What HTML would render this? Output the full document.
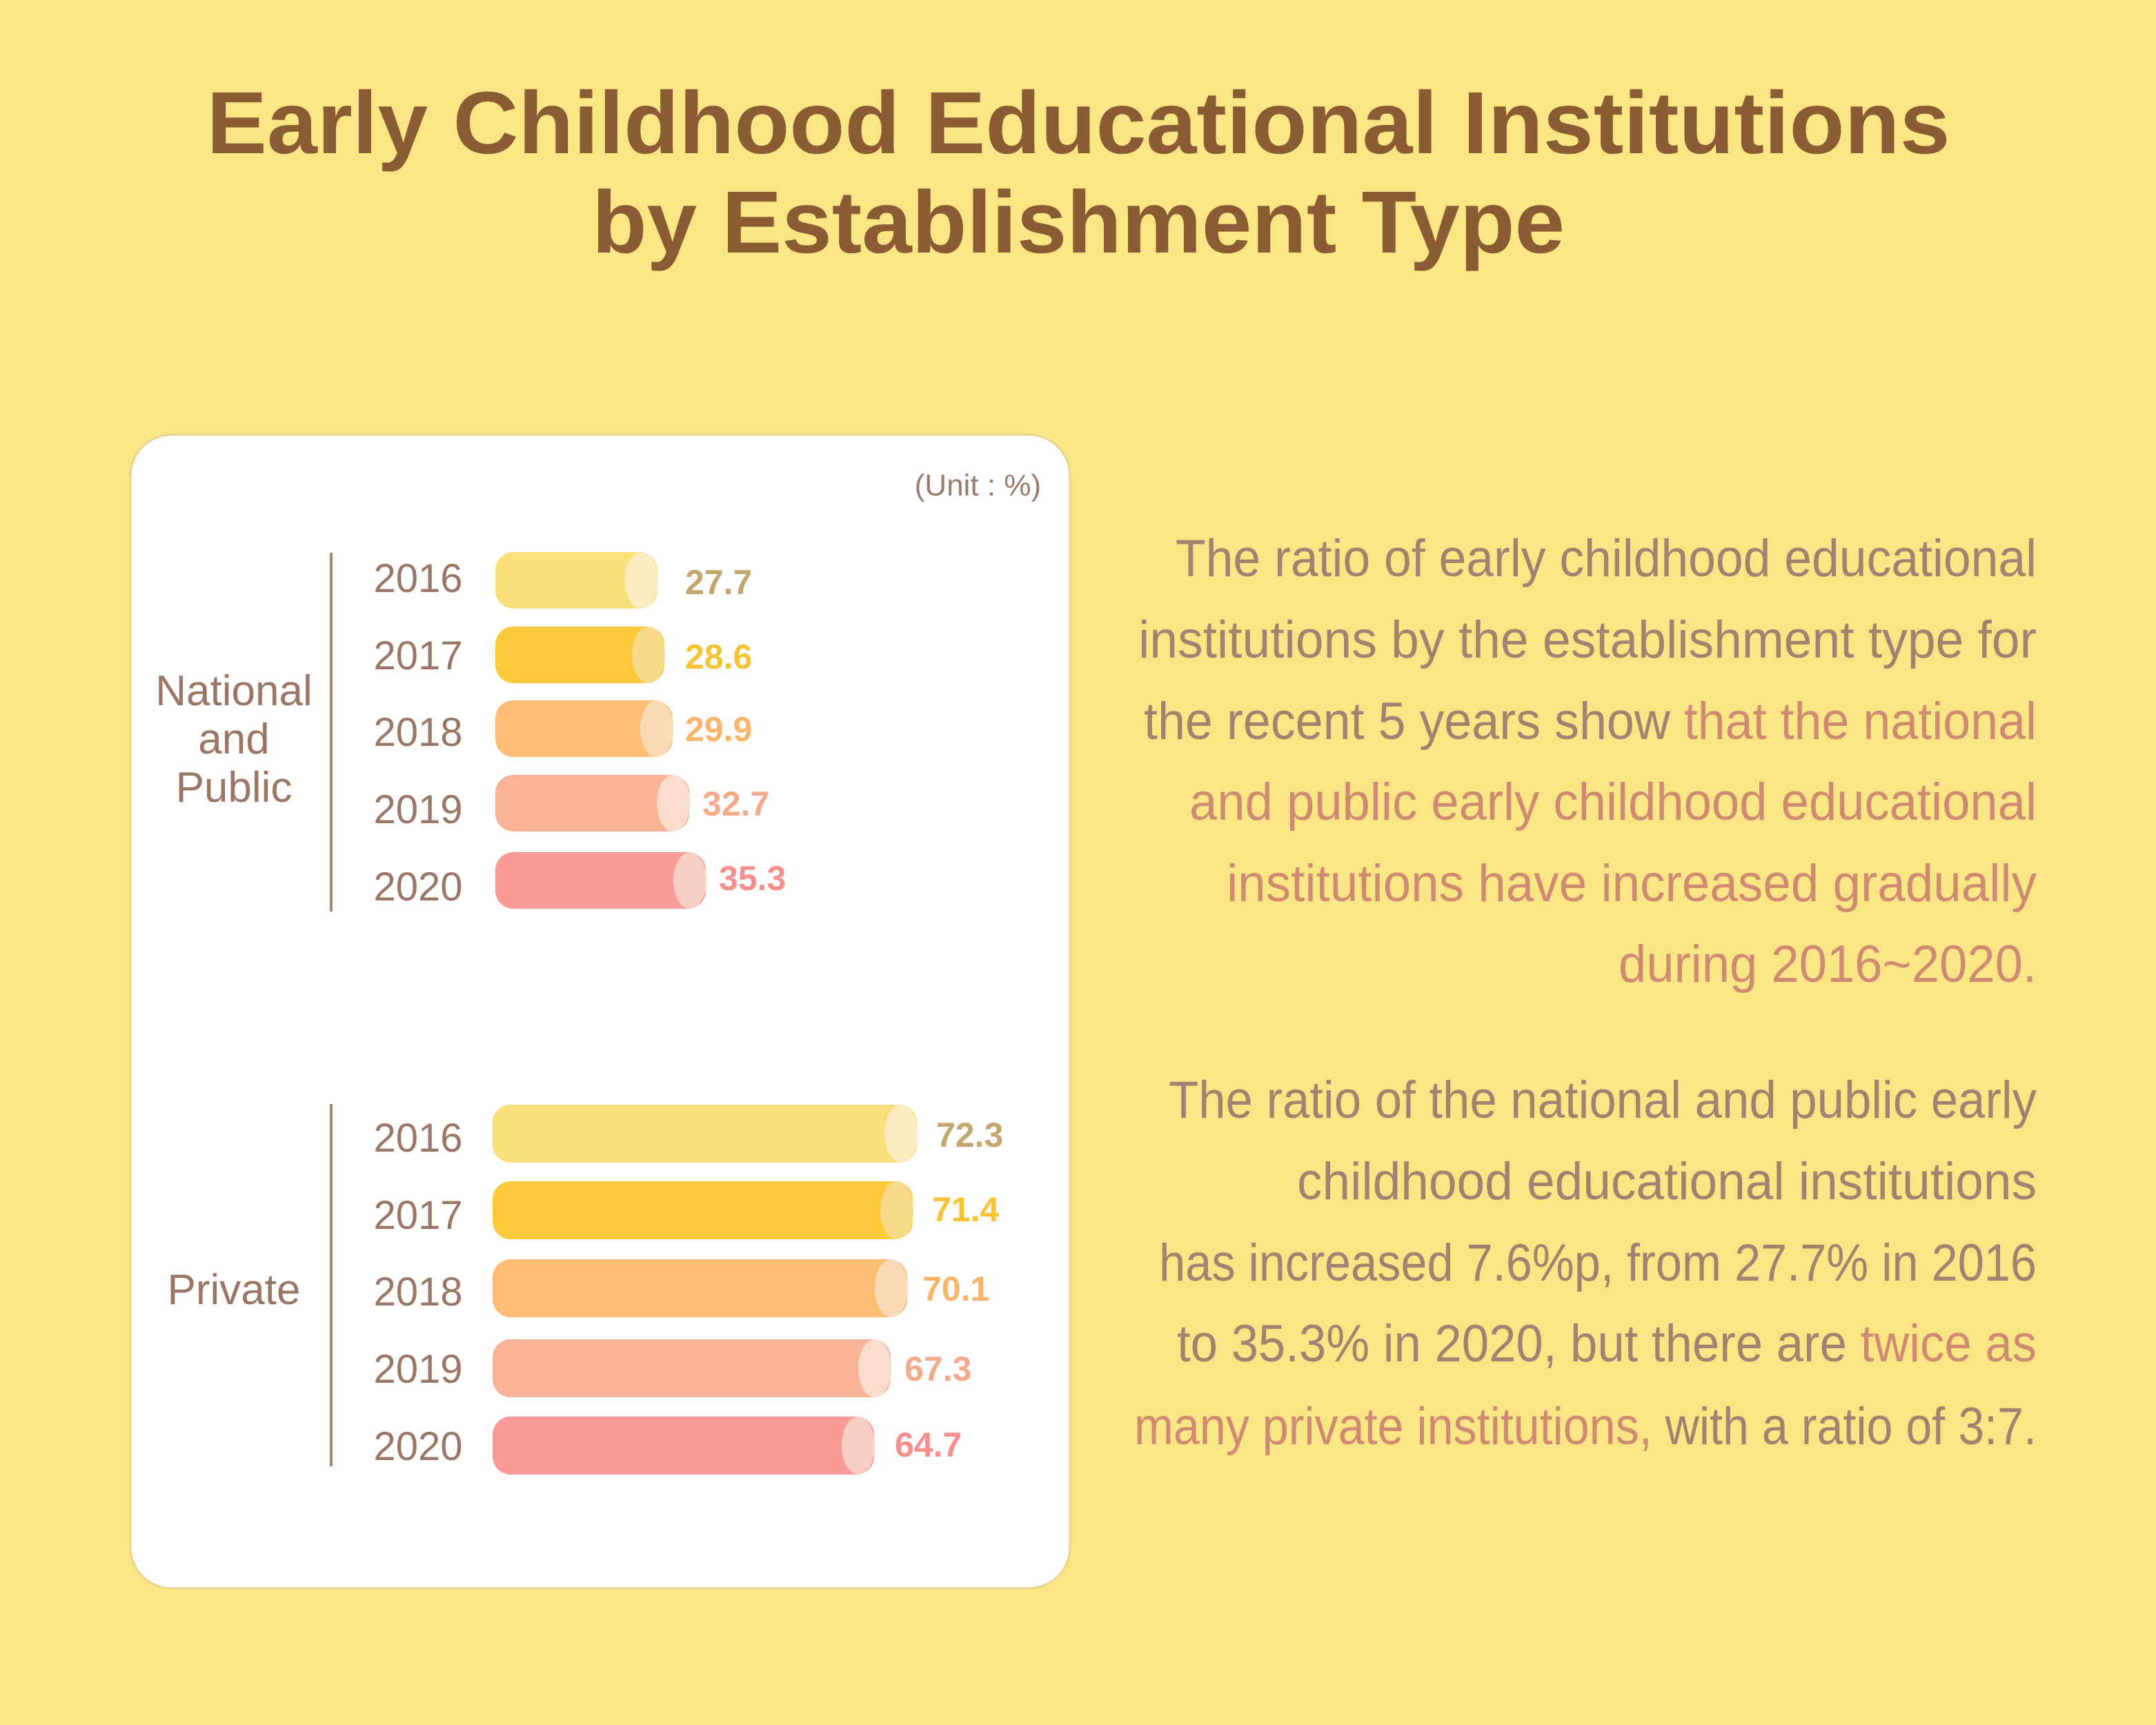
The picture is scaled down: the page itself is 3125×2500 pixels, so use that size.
<!DOCTYPE html>
<html><head><meta charset="utf-8"><style>
html,body{margin:0;padding:0;width:3125px;height:2500px;overflow:hidden;background:#fae685;}
svg{display:block}
</style></head><body>
<svg width="3125" height="2500" viewBox="0 0 3125 2500" xmlns="http://www.w3.org/2000/svg">
<rect width="3125" height="2500" fill="#fae685"/>
<g font-family="Liberation Sans, sans-serif" font-weight="bold" fill="#8b5c33" text-anchor="middle">
<text x="1563" y="222" font-size="128" textLength="2527" lengthAdjust="spacingAndGlyphs">Early Childhood Educational Institutions</text>
<text x="1563" y="366" font-size="128" textLength="1410" lengthAdjust="spacingAndGlyphs">by Establishment Type</text>
</g>
<rect x="189" y="630" width="1362" height="1672" rx="60" fill="#fff" stroke="#e8d48a" stroke-width="3"/>
<text x="1509" y="718" font-family="Liberation Sans, sans-serif" font-size="44" fill="#9a7a6a" text-anchor="end">(Unit : %)</text>
<line x1="480" y1="801" x2="480" y2="1321" stroke="#a58470" stroke-width="4"/>
<line x1="480" y1="1600" x2="480" y2="2125" stroke="#a58470" stroke-width="4"/>
<g font-family="Liberation Sans, sans-serif" font-size="62" fill="#9a7666" text-anchor="middle">
<text x="339" y="1022">National</text><text x="339" y="1092">and</text><text x="339" y="1162">Public</text>
<text x="339" y="1890">Private</text>
</g>
<g font-family="Liberation Sans, sans-serif" font-size="58" fill="#9a7666" text-anchor="middle">
<text x="606" y="858">2016</text><text x="606" y="970">2017</text><text x="606" y="1081">2018</text><text x="606" y="1193">2019</text><text x="606" y="1305">2020</text>
<text x="606" y="1669">2016</text><text x="606" y="1781">2017</text><text x="606" y="1892">2018</text><text x="606" y="2004">2019</text><text x="606" y="2116">2020</text>
</g>
<g>
<rect x="718" y="800" width="235" height="82" rx="26" fill="#fae07a"/><ellipse cx="930" cy="841" rx="24" ry="41" fill="#fbebc0"/>
<rect x="718" y="908" width="245" height="82" rx="26" fill="#fcc93a"/><ellipse cx="940" cy="949" rx="24" ry="41" fill="#fadb8c"/>
<rect x="718" y="1015" width="257" height="82" rx="26" fill="#febd73"/><ellipse cx="952" cy="1056" rx="24" ry="41" fill="#fadbb8"/>
<rect x="718" y="1123" width="281" height="82" rx="26" fill="#fbb397"/><ellipse cx="976" cy="1164" rx="24" ry="41" fill="#f8dccc"/>
<rect x="718" y="1235" width="305" height="82" rx="26" fill="#fb9b98"/><ellipse cx="1000" cy="1276" rx="24" ry="41" fill="#f9cfc4"/>
</g>
<g>
<rect x="714" y="1601" width="615" height="84" rx="26" fill="#fae07a"/><ellipse cx="1306" cy="1643" rx="24" ry="42" fill="#fbebc0"/>
<rect x="714" y="1712" width="609" height="84" rx="26" fill="#fcc93a"/><ellipse cx="1300" cy="1754" rx="24" ry="42" fill="#fadb8c"/>
<rect x="714" y="1825" width="601" height="84" rx="26" fill="#febd73"/><ellipse cx="1292" cy="1867" rx="24" ry="42" fill="#fadbb8"/>
<rect x="714" y="1941" width="577" height="84" rx="26" fill="#fbb397"/><ellipse cx="1268" cy="1983" rx="24" ry="42" fill="#f8dccc"/>
<rect x="714" y="2053" width="553" height="84" rx="26" fill="#fb9b98"/><ellipse cx="1244" cy="2095" rx="24" ry="42" fill="#f9cfc4"/>
</g>
<g font-family="Liberation Sans, sans-serif" font-size="50" font-weight="bold">
<text x="993" y="861" fill="#c1a76f">27.7</text>
<text x="993" y="969" fill="#f6c335">28.6</text>
<text x="993" y="1074" fill="#f9b66a">29.9</text>
<text x="1018" y="1182" fill="#f7a98c">32.7</text>
<text x="1042" y="1290" fill="#f58f8c">35.3</text>
<text x="1357" y="1662" fill="#c1a76f">72.3</text>
<text x="1351" y="1770" fill="#f6c335">71.4</text>
<text x="1337" y="1885" fill="#f9b66a">70.1</text>
<text x="1311" y="2001" fill="#f7a98c">67.3</text>
<text x="1297" y="2111" fill="#f58f8c">64.7</text>
</g>
<g font-family="Liberation Sans, sans-serif" font-size="76" fill="#a58170" text-anchor="end">
<text x="2952" y="835" textLength="1248" lengthAdjust="spacingAndGlyphs">The ratio of early childhood educational</text>
<text x="2952" y="953" textLength="1302" lengthAdjust="spacingAndGlyphs">institutions by the establishment type for</text>
<text x="2952" y="1071" textLength="1294" lengthAdjust="spacingAndGlyphs">the recent 5 years show <tspan fill="#cf8a72">that the national</tspan></text>
<text x="2952" y="1188" textLength="1228" lengthAdjust="spacingAndGlyphs" fill="#cf8a72">and public early childhood educational</text>
<text x="2952" y="1306" textLength="1174" lengthAdjust="spacingAndGlyphs" fill="#cf8a72">institutions have increased gradually</text>
<text x="2952" y="1423" textLength="606" lengthAdjust="spacingAndGlyphs" fill="#cf8a72">during 2016~2020.</text>
<text x="2952" y="1620" textLength="1258" lengthAdjust="spacingAndGlyphs">The ratio of the national and public early</text>
<text x="2952" y="1738" textLength="1072" lengthAdjust="spacingAndGlyphs">childhood educational institutions</text>
<text x="2952" y="1856" textLength="1272" lengthAdjust="spacingAndGlyphs">has increased 7.6%p, from 27.7% in 2016</text>
<text x="2952" y="1973" textLength="1246" lengthAdjust="spacingAndGlyphs">to 35.3% in 2020, but there are <tspan fill="#cf8a72">twice as</tspan></text>
<text x="2952" y="2093" textLength="1308" lengthAdjust="spacingAndGlyphs"><tspan fill="#cf8a72">many private institutions,</tspan> with a ratio of 3:7.</text>
</g>
</svg>
</body></html>
